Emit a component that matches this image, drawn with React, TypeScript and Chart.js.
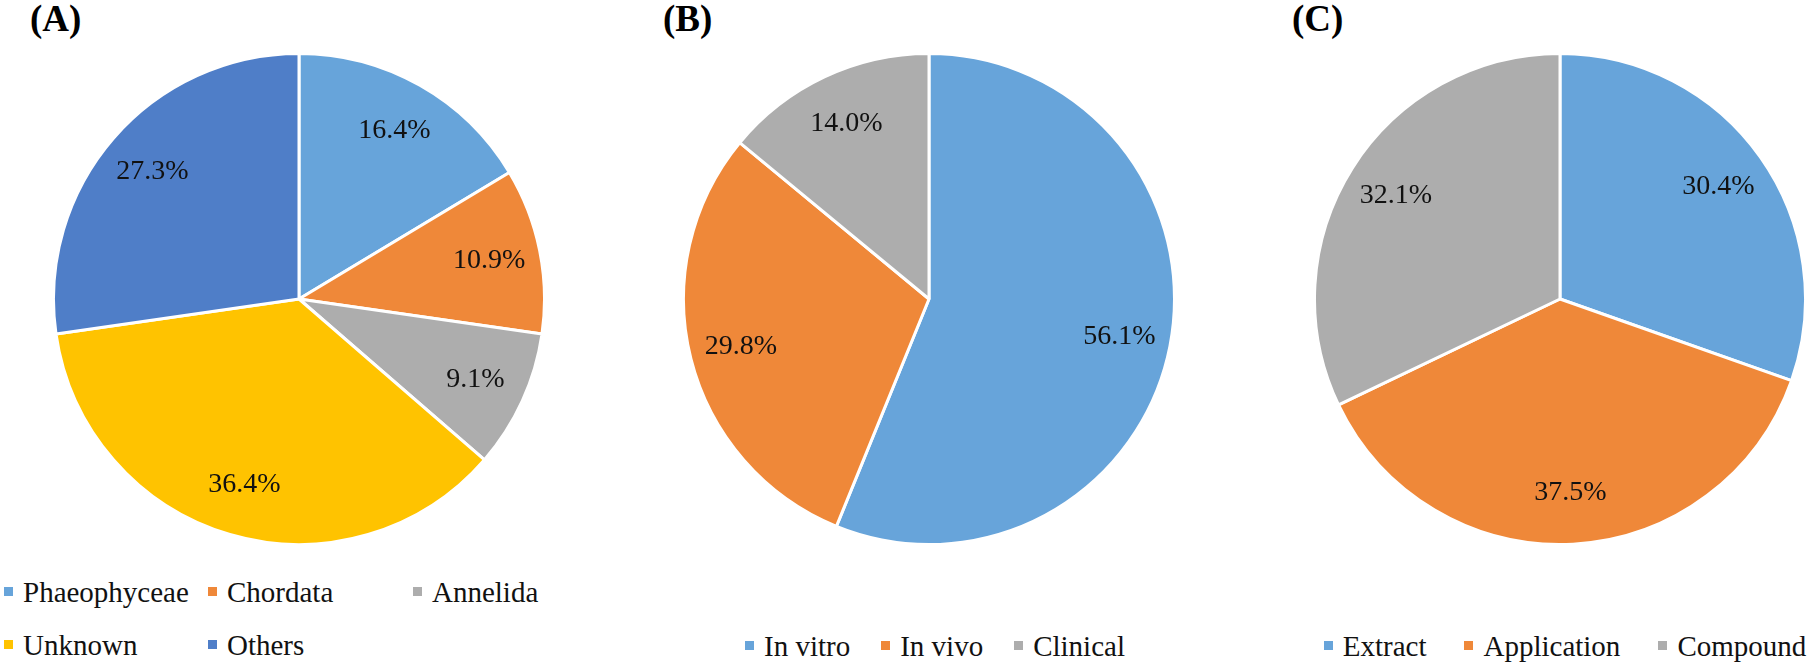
import React, { useEffect, useRef } from "react";
import { Chart, ArcElement, PieController } from "chart.js";

Chart.register(ArcElement, PieController);

// ---- data ----
const taxaLabels = ["Phaeophyceae", "Chordata", "Annelida", "Unknown", "Others"];
const taxaValues = [16.4, 10.9, 9.1, 36.4, 27.3];

const studyLabels = ["In vitro", "In vivo", "Clinical"];
const studyValues = [56.1, 29.8, 14.0];

const typeLabels = ["Extract", "Application", "Compound"];
const typeValues = [30.4, 37.5, 32.1];

const panelTitles = ["(A)", "(B)", "(C)"];

// ---- styles ----
const BLUE = "#67A4DA";
const ORANGE = "#EF8839";
const GRAY = "#ADADAD";
const YELLOW = "#FFC300";
const DARKBLUE = "#4F7EC8";
const taxaColors = [BLUE, ORANGE, GRAY, YELLOW, DARKBLUE];
const threeColors = [BLUE, ORANGE, GRAY];

const SERIF = '"Liberation Serif", "Times New Roman", serif';
const PIE_R = 244;
const CANVAS = 2 * PIE_R + 6;

const pctLabels = {
  id: "pctLabels",
  afterDatasetsDraw(chart: any) {
    const ctx = chart.ctx;
    const meta = chart.getDatasetMeta(0);
    const ds = chart.data.datasets[0];
    ctx.save();
    ctx.font = `28px ${SERIF}`;
    ctx.fillStyle = "#111";
    ctx.textAlign = "center";
    ctx.textBaseline = "middle";
    meta.data.forEach((arc: any, i: number) => {
      const p = arc.getProps(["x", "y", "startAngle", "endAngle", "outerRadius"], true);
      const mid = (p.startAngle + p.endAngle) / 2;
      const r = p.outerRadius * 0.79;
      ctx.fillText(
        Number(ds.data[i]).toFixed(1) + "%",
        p.x + Math.cos(mid) * r,
        p.y + Math.sin(mid) * r
      );
    });
    ctx.restore();
  },
};

function Pie({ labels, values, colors, cx, cy }: any) {
  const ref = useRef<HTMLCanvasElement | null>(null);
  useEffect(() => {
    if (!ref.current) return;
    const chart = new Chart(ref.current, {
      type: "pie",
      data: {
        labels,
        datasets: [
          {
            data: values,
            backgroundColor: colors,
            borderColor: "#ffffff",
            borderWidth: 3,
          },
        ],
      },
      options: {
        animation: false,
        responsive: false,
        maintainAspectRatio: false,
        devicePixelRatio: 1,
        layout: { padding: 0 },
        plugins: { legend: { display: false }, tooltip: { enabled: false } } as any,
        events: [],
      },
      plugins: [pctLabels],
    });
    return () => chart.destroy();
  }, []);
  return (
    <canvas
      ref={ref}
      width={CANVAS}
      height={CANVAS}
      style={{
        position: "absolute",
        left: cx - CANVAS / 2,
        top: cy - CANVAS / 2,
        width: CANVAS,
        height: CANVAS,
      }}
    />
  );
}

function LegendItem({ color, text, style }: any) {
  return (
    <div
      style={{
        display: "flex",
        alignItems: "center",
        whiteSpace: "nowrap",
        ...style,
      }}
    >
      <span
        style={{
          display: "inline-block",
          width: 9,
          height: 9,
          background: color,
          marginRight: 10,
          marginBottom: 2,
        }}
      />
      <span style={{ fontFamily: SERIF, fontSize: 29, lineHeight: "29px", color: "#111" }}>
        {text}
      </span>
    </div>
  );
}

function RowLegend({ labels, colors, centerX, top, gap }: any) {
  return (
    <div
      style={{
        position: "absolute",
        left: centerX - 400,
        width: 800,
        top,
        display: "flex",
        justifyContent: "center",
        gap,
      }}
    >
      {labels.map((t: string, i: number) => (
        <LegendItem key={t} color={colors[i]} text={t} />
      ))}
    </div>
  );
}

function Title({ text, left }: any) {
  return (
    <div
      style={{
        position: "absolute",
        left,
        top: 0,
        fontFamily: SERIF,
        fontWeight: "bold",
        fontSize: 37,
        lineHeight: "37px",
        color: "#000",
      }}
    >
      {text}
    </div>
  );
}

export default function App() {
  useEffect(() => {
    document.body.style.margin = "0";
  }, []);
  const colLeft = [4, 208, 413];
  return (
    <div
      style={{
        position: "fixed",
        left: 0,
        top: 0,
        width: 1810,
        height: 665,
        background: "#fff",
        overflow: "hidden",
      }}
    >
      <Title text={panelTitles[0]} left={30} />
      <Title text={panelTitles[1]} left={663} />
      <Title text={panelTitles[2]} left={1292} />

      <Pie labels={taxaLabels} values={taxaValues} colors={taxaColors} cx={299} cy={299} />
      <Pie labels={studyLabels} values={studyValues} colors={threeColors} cx={929} cy={299} />
      <Pie labels={typeLabels} values={typeValues} colors={threeColors} cx={1560} cy={299} />

      {taxaLabels.map((t, i) => (
        <LegendItem
          key={t}
          color={taxaColors[i]}
          text={t}
          style={{
            position: "absolute",
            left: colLeft[i % 3],
            top: i < 3 ? 578 : 631,
          }}
        />
      ))}

      <RowLegend labels={studyLabels} colors={threeColors} centerX={935} top={632} gap={31} />
      <RowLegend labels={typeLabels} colors={threeColors} centerX={1565} top={632} gap={38} />
    </div>
  );
}
